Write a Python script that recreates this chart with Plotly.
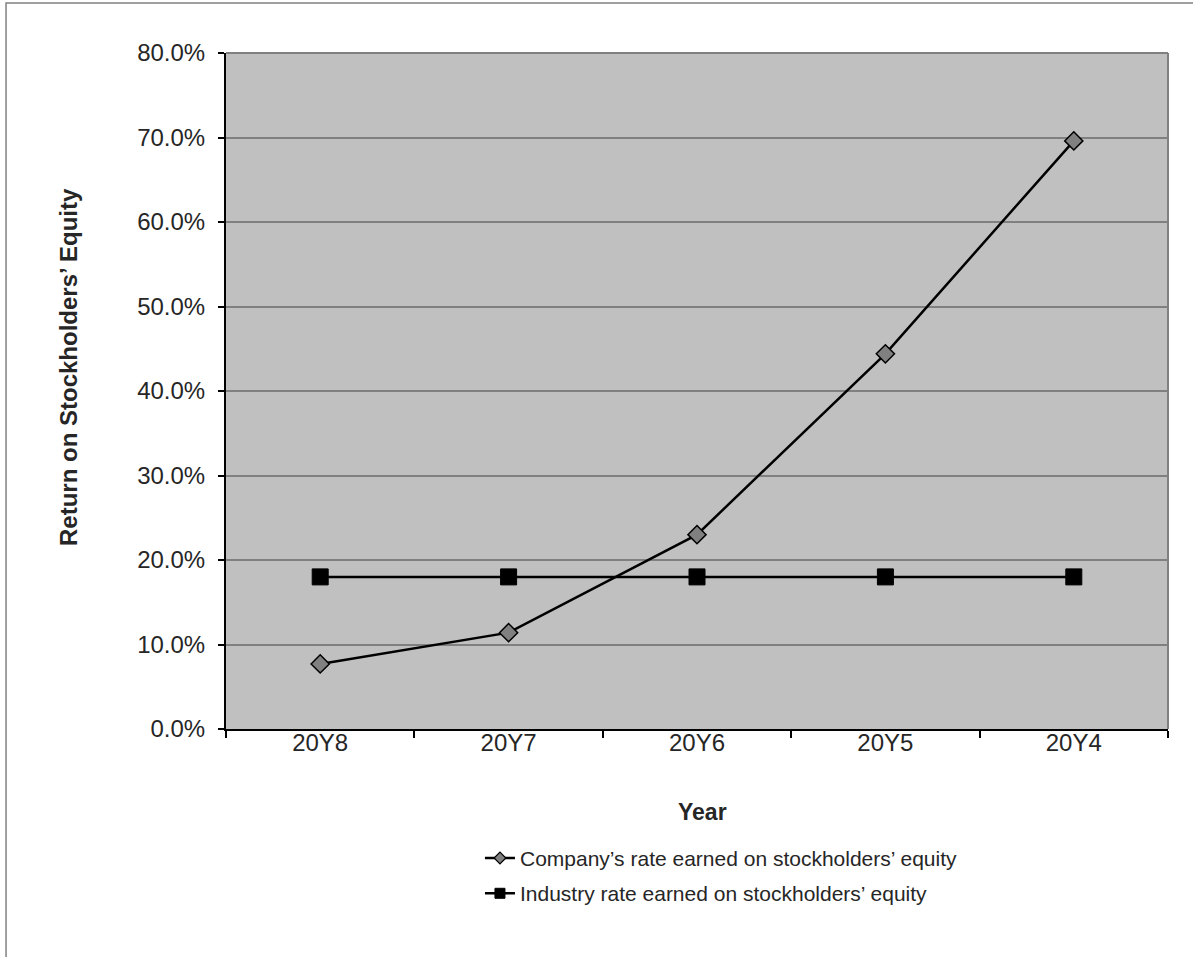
import plotly.graph_objects as go

years = ["20Y8", "20Y7", "20Y6", "20Y5", "20Y4"]
company_roe = [7.7, 11.4, 23.0, 44.4, 69.6]
industry_roe = [18.0, 18.0, 18.0, 18.0, 18.0]
y_ticks = [0, 10, 20, 30, 40, 50, 60, 70, 80]
y_tick_labels = ["0.0%", "10.0%", "20.0%", "30.0%", "40.0%", "50.0%", "60.0%", "70.0%", "80.0%"]

company_name = "Company\u2019s rate earned on stockholders\u2019 equity"
industry_name = "Industry rate earned on stockholders\u2019 equity"

FONT = "Liberation Sans, Arial, sans-serif"
TEXT = "#262626"

fig = go.Figure()
fig.add_trace(go.Scatter(
    x=years, y=company_roe, mode="lines+markers", showlegend=False,
    line=dict(color="#000000", width=2.5),
    marker=dict(symbol="diamond", size=14, color="#808080",
                line=dict(color="#000000", width=1.5)),
))
fig.add_trace(go.Scatter(
    x=years, y=industry_roe, mode="lines+markers", showlegend=False,
    line=dict(color="#000000", width=2.5),
    marker=dict(symbol="square", size=16, color="#000000",
                line=dict(color="#000000", width=1)),
))
# legend entries with smaller key symbols
fig.add_trace(go.Scatter(
    x=[None], y=[None], mode="lines+markers", name=company_name, legendgroup="a",
    line=dict(color="#000000", width=2.5),
    marker=dict(symbol="diamond", size=9, color="#808080",
                line=dict(color="#000000", width=1.2)),
))
fig.add_trace(go.Scatter(
    x=[None], y=[None], mode="lines+markers", name=industry_name, legendgroup="b",
    line=dict(color="#000000", width=2.5),
    marker=dict(symbol="square", size=10, color="#000000",
                line=dict(color="#000000", width=1)),
))

fig.update_layout(
    width=1193, height=957,
    margin=dict(l=226, r=25, t=53, b=228),
    paper_bgcolor="#ffffff",
    plot_bgcolor="#c0c0c0",
    font=dict(family=FONT, size=24, color=TEXT),
    showlegend=True,
    legend=dict(
        x=0.2696, y=-0.161, xanchor="left", yanchor="top",
        font=dict(family=FONT, size=21, color=TEXT),
        bgcolor="rgba(0,0,0,0)",
        tracegroupgap=5,
    ),
    xaxis=dict(
        type="category", categoryorder="array", categoryarray=years,
        range=[-0.5, 4.5],
        tickson="boundaries", ticks="outside", ticklen=7, tickwidth=1.5,
        tickcolor="#000000", showline=True, linecolor="#000000", linewidth=2,
        showgrid=False, zeroline=False, ticklabelstandoff=-9,
        tickfont=dict(family=FONT, size=24, color=TEXT),
    ),
    yaxis=dict(
        range=[0, 80], tickvals=y_ticks, ticktext=y_tick_labels,
        ticks="outside", ticklen=6, tickwidth=1.5, tickcolor="#000000",
        showline=True, linecolor="#000000", linewidth=2,
        showgrid=True, gridcolor="#808080", gridwidth=2, zeroline=False,
        ticklabelstandoff=8,
        tickfont=dict(family=FONT, size=24, color=TEXT),
    ),
    annotations=[
        dict(text="<b>Year</b>", xref="paper", yref="paper",
             x=(702 - 226) / 942, y=(729 - 812) / 676,
             xanchor="center", yanchor="middle", showarrow=False,
             font=dict(family=FONT, size=23, color=TEXT)),
        dict(text="<b>Return on Stockholders\u2019 Equity</b>", xref="paper", yref="paper",
             x=(68 - 226) / 942, y=(729 - 367) / 676, textangle=-90,
             xanchor="center", yanchor="middle", showarrow=False,
             font=dict(family=FONT, size=24, color=TEXT)),
    ],
    shapes=[
        # right and top edges of the plotting area
        dict(type="line", xref="paper", yref="paper", x0=1, x1=1, y0=0, y1=1,
             line=dict(color="#808080", width=2)),
        dict(type="line", xref="paper", yref="paper", x0=0, x1=1, y0=1, y1=1,
             line=dict(color="#808080", width=2)),
        # outer chart frame
        dict(type="rect", xref="paper", yref="paper",
             x0=-0.2335, x1=1.04, y0=-0.36, y1=1.074,
             line=dict(color="#808080", width=1.5), layer="below"),
    ],
)

fig.write_html("out.html")
